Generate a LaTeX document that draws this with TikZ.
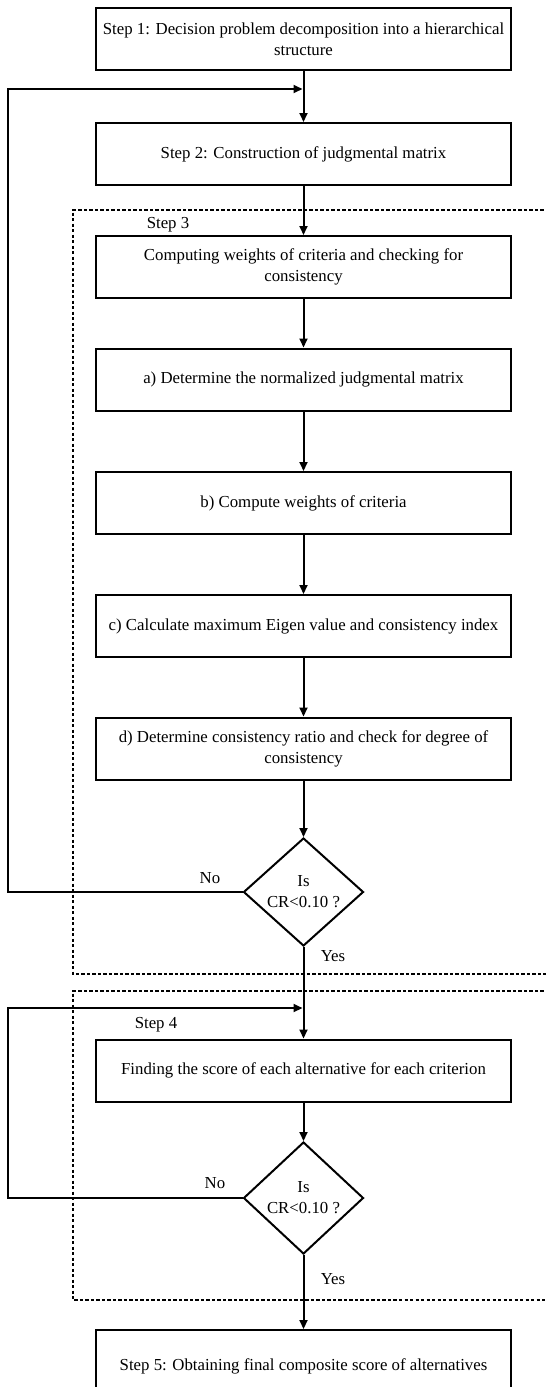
\documentclass[tikz,border=0pt]{standalone}
\usepackage{fontspec}
\setmainfont{Liberation Serif}
\usetikzlibrary{shapes.geometric,arrows.meta}
\begin{document}
\begin{tikzpicture}[x=1pt,y=-1pt,
  txt/.style={font=\fontsize{16.8}{21}\selectfont},
  stepbox/.style={draw,line width=2pt,minimum width=415pt,minimum height=62pt,
    align=center,inner sep=0pt,txt},
  decision/.style={draw,diamond,line width=2pt,minimum width=120pt,
    minimum height=108pt,inner sep=0pt},
  lbl/.style={txt,inner sep=0pt,align=center},
  flow/.style={line width=2pt,-{Triangle[length=9pt,width=8pt]}},
  group/.style={line width=1.5pt,dash pattern=on 3.3pt off 2.2pt}]
\useasboundingbox (0,0) rectangle (546,1387);

% dashed groups for steps 3 and 4 (open on the right)
\draw[group] (560,210) -| (73,974) -- (560,974);
\draw[group] (560,991) -| (73,1300) -- (560,1300);

% process boxes
\node[stepbox] (s1) at (303.5,39) {Step 1: Decision problem decomposition into a hierarchical\\structure};
\node[stepbox] (s2) at (303.5,154) {Step 2: Construction of judgmental matrix};
\node[stepbox] (s3) at (303.5,267) {Computing weights of criteria and checking for\\consistency};
\node[stepbox] (sa) at (303.5,379.5) {a) Determine the normalized judgmental matrix};
\node[stepbox] (sb) at (303.5,503) {b) Compute weights of criteria};
\node[stepbox] (sc) at (303.5,626) {c) Calculate maximum Eigen value and consistency index};
\node[stepbox] (sd) at (303.5,748.5) {d) Determine consistency ratio and check for degree of\\consistency};
\node[decision] (q1) at (303.5,892) {};
\node[lbl] (q1t) at (q1.center) {Is\\CR<0.10 ?};
\node[stepbox] (s4) at (303.5,1070.5) {Finding the score of each alternative for each criterion};
\node[decision,minimum height=112pt] (q2) at (303.5,1198) {};
\node[lbl] (q2t) at (q2.center) {Is\\CR<0.10 ?};
\node[stepbox,minimum height=72pt] (s5) at (303.5,1366) {Step 5: Obtaining final composite score of alternatives};

% labels
\node[lbl] (l3) at (168,225) {Step 3};
\node[lbl] (l4) at (156,1025) {Step 4};
\node[lbl] (n1) at (210,878) {No};
\node[lbl] (y1) at (333,956) {Yes};
\node[lbl] (n2) at (215,1183) {No};
\node[lbl] (y2) at (333,1279) {Yes};

% main flow
\draw[flow] (s1) -- (s2);
\draw[flow] (s2) -- (s3);
\draw[flow] (s3) -- (sa);
\draw[flow] (sa) -- (sb);
\draw[flow] (sb) -- (sc);
\draw[flow] (sc) -- (sd);
\draw[flow] (sd) -- (q1);
\draw[flow] (q1) -- (s4);
\draw[flow] (s4) -- (q2);
\draw[flow] (q2) -- (s5);

% feedback loops
\coordinate (k1) at (8,89);
\coordinate (r1) at (303.5,89);
\coordinate (k2) at (8,1008);
\coordinate (r2) at (303.5,1008);
\draw[flow,shorten >=1pt] (q1.west) -| (k1) -- (r1);
\draw[flow,shorten >=1pt] (q2.west) -| (k2) -- (r2);
\end{tikzpicture}
\end{document}
